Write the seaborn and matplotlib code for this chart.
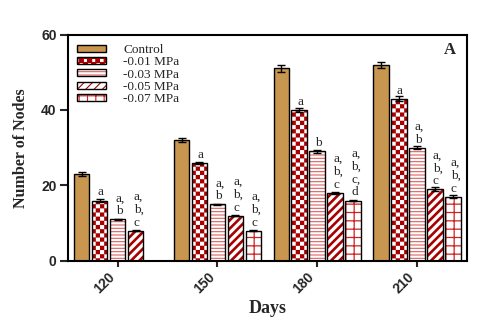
import numpy as np
import pandas as pd
import matplotlib
matplotlib.use("Agg")
import matplotlib.pyplot as plt
import matplotlib.hatch as mhatch
import matplotlib.patches as mpatches
from matplotlib.path import Path
import seaborn as sns

# ---------------- data ----------------
days = ["120", "150", "180", "210"]
treatments = ["Control", "-0.01 MPa", "-0.03 MPa", "-0.05 MPa", "-0.07 MPa"]
control = [23, 32, 51, 52]
mpa_001 = [16, 26, 40, 43]
mpa_003 = [11, 15, 29, 30]
mpa_005 = [8, 12, 18, 19]
mpa_007 = [None, 8, 16, 17]
err_control = [0.5, 0.6, 0.8, 0.8]
err_001 = [0.3, 0.3, 0.6, 0.7]
err_003 = [0.1, 0.1, 0.3, 0.4]
err_005 = [0.1, 0.2, 0.2, 0.5]
err_007 = [None, 0.1, 0.2, 0.4]
let_control = ["", "", "", ""]
let_001 = ["a", "a", "a", "a"]
let_003 = ["a,\nb", "a,\nb", "b", "a,\nb"]
let_005 = ["a,\nb,\nc", "a,\nb,\nc", "a,\nb,\nc", "a,\nb,\nc"]
let_007 = ["", "a,\nb,\nc", "a,\nb,\nc,\nd", "a,\nb,\nc"]

values = [control, mpa_001, mpa_003, mpa_005, mpa_007]
errors = [err_control, err_001, err_003, err_005, err_007]
letters = [let_control, let_001, let_003, let_005, let_007]

rows = []
for t, vals in zip(treatments, values):
    for d, v in zip(days, vals):
        if v is not None:
            rows.append({"Days": d, "Treatment": t, "Nodes": v})
df = pd.DataFrame(rows)

# ------------- custom checker hatch (replaces 'O') -------------
class CheckerHatch(mhatch.HatchPatternBase):
    def __init__(self, hatch, density):
        self.n = int(hatch.count("O") * density)
        if self.n % 2:
            self.n += 1
        self.num_vertices = (self.n * self.n // 2) * 5 if self.n else 0

    def set_vertices_and_codes(self, vertices, codes):
        n = self.n
        s = 1.0 / n
        k = 0
        for i in range(n):
            for j in range(n):
                if (i + j) % 2 == 0:
                    x0, y0 = i * s, j * s
                    vertices[k:k + 5] = [[x0, y0], [x0 + s, y0], [x0 + s, y0 + s],
                                         [x0, y0 + s], [x0, y0]]
                    codes[k:k + 5] = [Path.MOVETO, Path.LINETO, Path.LINETO,
                                      Path.LINETO, Path.CLOSEPOLY]
                    k += 5

mhatch._hatch_types = [CheckerHatch if t is mhatch.LargeCircles else t
                       for t in mhatch._hatch_types]

# ---------------- style ----------------
sns.set_style("white")
plt.rcParams["font.family"] = ["Liberation Sans", "DejaVu Sans"]
plt.rcParams["hatch.linewidth"] = 0.8

tan = "#C8964E"
dred = "#A80000"
styles = [
    dict(face=tan, hatch=None, hcol=None, hlw=0.8),
    dict(face="white", hatch="OOOO", hcol=dred, hlw=0.1),
    dict(face="white", hatch="-----", hcol="#DD6060", hlw=0.8),
    dict(face="white", hatch="////", hcol=dred, hlw=1.9),
    dict(face="white", hatch="++", hcol="#D02020", hlw=0.9),
]

def style_patch(p, st):
    p.set_facecolor(st["face"])
    p.set_edgecolor("black")
    p.set_linewidth(1.0)
    if st["hatch"]:
        p.set_hatch(st["hatch"])
        rgba = matplotlib.colors.to_rgba(st["hcol"])
        if hasattr(p, "set_hatchcolor"):
            try:
                p.set_hatchcolor(rgba)
            except Exception:
                p._hatch_color = rgba
        else:
            p._hatch_color = rgba
        if hasattr(p, "set_hatch_linewidth"):
            p.set_hatch_linewidth(st["hlw"])
        else:
            p._hatch_linewidth = st["hlw"]

fig = plt.figure(figsize=(4.95, 3.29), dpi=100)
ax = fig.add_axes([0.137, 0.207, 0.806, 0.688])

sns.barplot(data=df, x="Days", y="Nodes", hue="Treatment", order=days,
            hue_order=treatments, width=0.9, gap=0.14, errorbar=None,
            legend=False, ax=ax, palette=["white"] * 5)

# collect bars by treatment (hue index) from their positions
bars = {i: [] for i in range(len(treatments))}
for p in list(ax.patches):
    h = p.get_height()
    if not np.isfinite(h) or h <= 0:
        continue
    xc = p.get_x() + p.get_width() / 2
    g = int(round(xc))
    hi = int(round((xc - g + 0.36) / 0.18))
    bars[hi].append((g, xc, h, p))

for i in range(len(treatments)):
    st = styles[i]
    items = sorted(bars[i], key=lambda t: t[0])
    xs, tops, errs, labs = [], [], [], []
    for g, xc, h, p in items:
        style_patch(p, st)
        p.set_zorder(2)
        xs.append(xc)
        tops.append(h)
        errs.append(errors[i][g])
        labs.append(letters[i][g])
    ax.errorbar(xs, tops, yerr=errs, fmt="none", ecolor="black",
                elinewidth=1.0, capsize=3, capthick=1.0, zorder=3)
    for x, top, lab in zip(xs, tops, labs):
        if lab:
            ax.annotate(lab, (x - 0.02, top), xytext=(0, 1.5),
                        textcoords="offset points", ha="left", va="bottom",
                        fontsize=9.5, family="Liberation Serif",
                        linespacing=1.1, zorder=4)

ax.set_ylim(0, 60)
ax.set_xlim(-0.5, 3.5)
ax.set_yticks([0, 20, 40, 60])
for s in ax.spines.values():
    s.set_visible(True)
    s.set_linewidth(1.5)
    s.set_color("black")
ax.tick_params(axis="y", direction="out", length=6, width=1.5, pad=2,
               labelsize=10, left=True)
ax.tick_params(axis="x", direction="out", length=4.5, width=1.5, pad=2,
               labelsize=10, bottom=True)
for lab in ax.get_yticklabels():
    lab.set_fontweight("bold")
ax.set_xticks(range(len(days)))
ax.set_xticklabels(days, rotation=45, ha="right", fontweight="bold")

ax.set_ylabel("Number of Nodes", family="Liberation Serif", fontweight="bold",
              fontsize=11.5, labelpad=9)
ax.set_xlabel("Days", family="Liberation Serif", fontweight="bold",
              fontsize=13, labelpad=3)

ax.text(0.957, 0.93, "A", transform=ax.transAxes, ha="center", va="center",
        family="Liberation Serif", fontweight="bold", fontsize=12)

handles = []
for st in styles:
    hp = mpatches.Patch()
    style_patch(hp, st)
    handles.append(hp)
ax.legend(handles, treatments, loc="upper left", bbox_to_anchor=(0.0, 1.0),
          frameon=False, handlelength=2.2, handleheight=0.45,
          handletextpad=1.3, labelspacing=0.03, borderaxespad=0.3,
          prop={"family": "Liberation Serif", "size": 9.5})

fig.savefig("out.png", dpi=100)
